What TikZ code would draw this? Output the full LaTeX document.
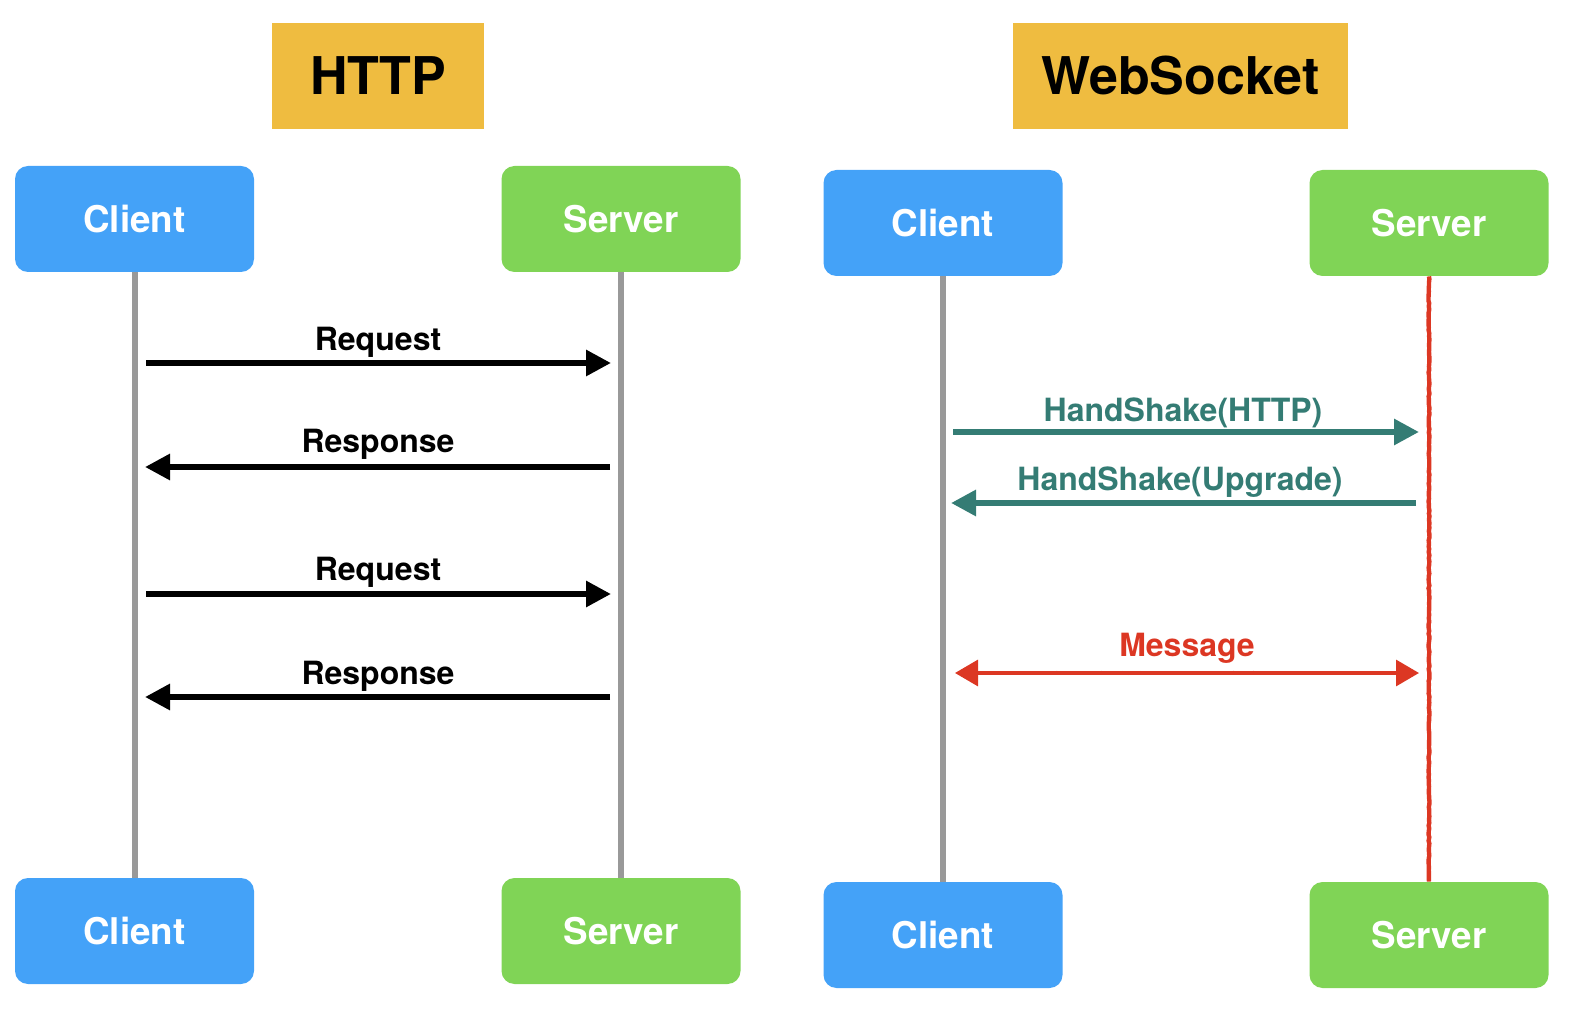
\documentclass[tikz,border=0pt]{standalone}
\usepackage{fontspec}
\setmainfont{TeX Gyre Heros}
\usetikzlibrary{arrows.meta,decorations.pathmorphing}
\definecolor{cblue}{HTML}{44A2F8}
\definecolor{cgreen}{HTML}{80D456}
\definecolor{cyellow}{HTML}{EFBC40}
\definecolor{cteal}{HTML}{347C74}
\definecolor{cred}{HTML}{DC3723}
\definecolor{cgray}{HTML}{999999}
\begin{document}
\begin{tikzpicture}[x=0.5pt,y=-0.5pt,
  titlebox/.style={fill=cyellow,draw=none,minimum width=#1,minimum height=53pt,inner sep=0pt,
    font=\fontsize{26pt}{30pt}\selectfont\bfseries,text=black},
  actor/.style={fill=#1,draw=none,rounded corners=6.5pt,minimum width=119.5pt,minimum height=53pt,
    inner sep=0pt,font=\fontsize{18.4pt}{22pt}\selectfont\bfseries,text=white},
  lifeline/.style={draw=cgray,line width=3pt},
  redline/.style={draw=cred,line width=2.2pt,decorate,decoration={random steps,segment length=1.5pt,amplitude=0.25pt}},
  msgarrow/.style={draw=black,line width=3pt,-{Triangle[length=12.5pt,width=12.5pt]}},
  tealarrow/.style={draw=cteal,line width=3pt,-{Triangle[length=12.5pt,width=12.5pt]}},
  redarrow/.style={draw=cred,line width=1.6pt,{Triangle[length=11.5pt,width=13pt]}-{Triangle[length=11.5pt,width=13pt]}},
  roughline/.style={draw=cred,line width=1.2pt,decorate,decoration={random steps,segment length=1.5pt,amplitude=0.4pt}},
  lbl/.style={anchor=base,inner sep=0pt,font=\fontsize{16pt}{19pt}\selectfont\bfseries,text=#1},
]
\useasboundingbox (0,0) rectangle (1570,1010);

% titles
\node[titlebox=106pt] (thttp) at (378,76) {HTTP};
\node[titlebox=167.5pt] (tws) at (1180.5,76) {WebSocket};

% HTTP actors
\node[actor=cblue] (hc1) at (134.5,219) {Client};
\node[actor=cgreen] (hs1) at (621,219) {Server};
\node[actor=cblue] (hc2) at (134.5,931) {Client};
\node[actor=cgreen] (hs2) at (621,931) {Server};

% WebSocket actors
\node[actor=cblue] (wc1) at (943,223) {Client};
\node[actor=cgreen] (ws1) at (1429,223) {Server};
\node[actor=cblue] (wc2) at (943,935) {Client};
\node[actor=cgreen] (ws2) at (1429,935) {Server};

% lifelines
\draw[lifeline] (hc1.south) -- (hc2.north);
\draw[lifeline] (hs1.south) -- (hs2.north);
\draw[lifeline] (wc1.south) -- (wc2.north);
\draw[redline] (ws1.south) -- (ws2.north);

% HTTP messages
\coordinate (a1s) at (146,363);  \coordinate (a1e) at (611,363);
\coordinate (a2s) at (610,467);  \coordinate (a2e) at (145,467);
\coordinate (a3s) at (146,594);  \coordinate (a3e) at (611,594);
\coordinate (a4s) at (610,697);  \coordinate (a4e) at (145,697);
\draw[msgarrow] (a1s) -- (a1e);
\draw[msgarrow] (a2s) -- (a2e);
\draw[msgarrow] (a3s) -- (a3e);
\draw[msgarrow] (a4s) -- (a4e);
\node[lbl=black] (l1) at (378,351) {Request};
\node[lbl=black] (l2) at (378,453) {Response};
\node[lbl=black] (l3) at (378,581) {Request};
\node[lbl=black] (l4) at (378,684) {Response};

% WebSocket messages
\coordinate (b1s) at (953,432);  \coordinate (b1e) at (1419,432);
\coordinate (b2s) at (1416,503); \coordinate (b2e) at (951,503);
\coordinate (b3s) at (955,673);  \coordinate (b3e) at (1419,673);
\coordinate (b3i) at (975,673);  \coordinate (b3j) at (1399,673);
\draw[tealarrow] (b1s) -- (b1e);
\draw[tealarrow] (b2s) -- (b2e);
\draw[redarrow] (b3s) -- (b3e);
\draw[roughline] (b3i) -- (b3j);
\node[lbl=cteal] (l5) at (1183,422) {HandShake(HTTP)};
\node[lbl=cteal] (l6) at (1180,491) {HandShake(Upgrade)};
\node[lbl=cred] (l7) at (1187,656) {Message};
\end{tikzpicture}
\end{document}
